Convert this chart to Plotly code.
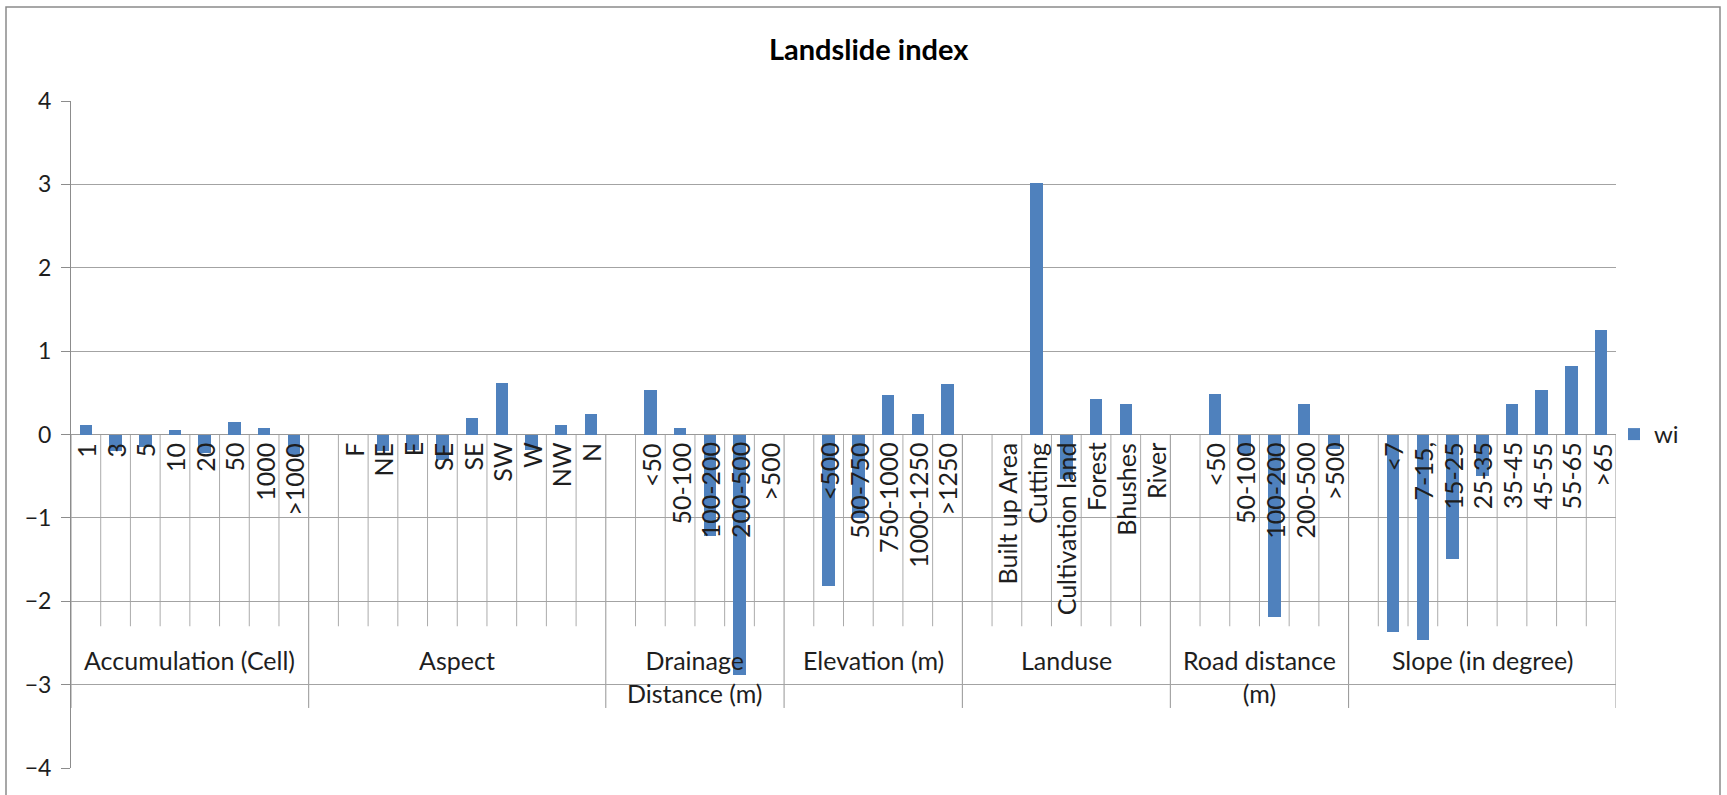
import plotly.graph_objects as go

# ---------------- data ----------------
groups = ["Accumulation (Cell)", "Aspect", "Drainage<br>Distance (m)", "Elevation (m)",
          "Landuse", "Road distance<br>(m)", "Slope (in degree)"]

accum_labels = ["1", "3", "5", "10", "20", "50", "1000", ">1000"]
accum_values = [0.11, -0.20, -0.15, 0.06, -0.22, 0.15, 0.08, -0.24]

aspect_labels = ["F", "NE", "E", "SE", "SE", "SW", "W", "NW", "N"]
aspect_values = [0.0, -0.20, -0.18, -0.30, 0.20, 0.62, -0.19, 0.11, 0.25]

drainage_labels = ["<50", "50-100", "100-200", "200-500", ">500"]
drainage_values = [0.53, 0.08, -1.22, -2.89, 0.0]

elevation_labels = ["<500", "500-750", "750-1000", "1000-1250", ">1250"]
elevation_values = [-1.82, -1.0, 0.47, 0.25, 0.61]

landuse_labels = ["Built up Area", "Cutting", "Cultivation land", "Forest", "Bhushes", "River"]
landuse_values = [0.0, 3.02, -0.53, 0.42, 0.37, 0.0]

road_labels = ["<50", "50-100", "100-200", "200-500", ">500"]
road_values = [0.48, -0.23, -2.19, 0.36, -0.17]

slope_labels = ["<7", "7-15,", "15-25", "25-35", "35-45", "45-55", "55-65", ">65"]
slope_values = [-2.37, -2.46, -1.49, -0.50, 0.36, 0.53, 0.82, 1.25]

y_ticks = [-4, -3, -2, -1, 0, 1, 2, 3, 4]
series_name = "wi"

group_labels = [accum_labels, aspect_labels, drainage_labels, elevation_labels,
                landuse_labels, road_labels, slope_labels]
group_values = [accum_values, aspect_values, drainage_values, elevation_values,
                landuse_values, road_values, slope_values]

# ---------------- layout helpers ----------------
W, H = 1727, 795
ML, MR, MT, MB = 71, 111, 101, 27
FONT = "Lato"
BAR = "#4F81BD"
GRID = "#A3A3A3"
TICKC = "#ABABAB"
TXT = "#1E1E1E"

# slot positions (each group after the first starts with one empty slot)
xs, ys, labels = [], [], []
spans = []
pos = 0
for gi, (labs, vals) in enumerate(zip(group_labels, group_values)):
    start = pos
    if gi > 0:
        pos += 1
    for lab, v in zip(labs, vals):
        xs.append(pos)
        ys.append(v)
        labels.append(lab)
        pos += 1
    spans.append((start, pos - 1))
n_slots = pos

fig = go.Figure()
fig.add_trace(go.Bar(x=xs, y=ys, width=0.42, name=series_name,
                     marker=dict(color=BAR, line=dict(width=0)), showlegend=True))

shapes = []
# category tick lines
boundaries = set(s - 0.5 for s, e in spans) | {spans[-1][1] + 0.5}
for k in range(1, n_slots):
    xb = k - 0.5
    if xb in boundaries:
        continue
    shapes.append(dict(type="line", xref="x", yref="y", x0=xb, x1=xb, y0=0, y1=-2.30,
                       line=dict(color=TICKC, width=1), layer="below"))
for xb in sorted(boundaries):
    shapes.append(dict(type="line", xref="x", yref="y", x0=xb, x1=xb, y0=0, y1=-3.28,
                       line=dict(color="#949494", width=1), layer="below"))

# outer chart border
pw = W - ML - MR
ph = H - MT - MB
def px_to_paper_x(px):
    return (px - ML) / pw
def px_to_paper_y(py):
    return (H - MB - py) / ph
shapes.append(dict(type="rect", xref="paper", yref="paper",
                   x0=px_to_paper_x(6), x1=px_to_paper_x(1720),
                   y0=px_to_paper_y(830), y1=px_to_paper_y(7),
                   line=dict(color="#8A8A8A", width=1.5), fillcolor="rgba(0,0,0,0)"))

annotations = []
for x, lab in zip(xs, labels):
    annotations.append(dict(x=x, y=0, xref="x", yref="y", text=lab, textangle=-90,
                            xanchor="center", yanchor="top", yshift=-6, showarrow=False,
                            font=dict(family=FONT, size=25, color=TXT)))
for g, (s, e) in zip(groups, spans):
    annotations.append(dict(x=(s + e) / 2, y=-2.50, xref="x", yref="y", text=g,
                            xanchor="center", yanchor="top", showarrow=False,
                            font=dict(family=FONT, size=25, color=TXT)))

fig.update_layout(
    width=W, height=H, autosize=False,
    margin=dict(l=ML, r=MR, t=MT, b=MB, pad=0),
    paper_bgcolor="white", plot_bgcolor="white",
    title=dict(text="<b>Landslide index</b>", x=0.503, xref="container", xanchor="center",
               y=1 - 50 / H, yref="container", yanchor="middle",
               font=dict(family=FONT, size=29, color="#000000")),
    font=dict(family=FONT, size=24, color=TXT),
    xaxis=dict(range=[-0.5, n_slots - 0.5], showticklabels=False, showgrid=False,
               zeroline=False, showline=False, ticks=""),
    yaxis=dict(range=[-4, 4], tickvals=y_ticks, showgrid=True, gridcolor=GRID, gridwidth=1,
               zeroline=True, zerolinecolor="#999999", zerolinewidth=1,
               showline=True, linecolor="#8C8C8C", linewidth=1,
               ticks="outside", ticklen=9, tickcolor="#8C8C8C",
               ticklabelstandoff=5, tickfont=dict(family=FONT, size=23, color=TXT)),
    legend=dict(x=px_to_paper_x(1614), y=0.5, xanchor="left", yanchor="middle",
                font=dict(family=FONT, size=24, color=TXT), bgcolor="rgba(0,0,0,0)"),
    shapes=shapes, annotations=annotations, bargap=0,
)

fig.write_html("out.html")
